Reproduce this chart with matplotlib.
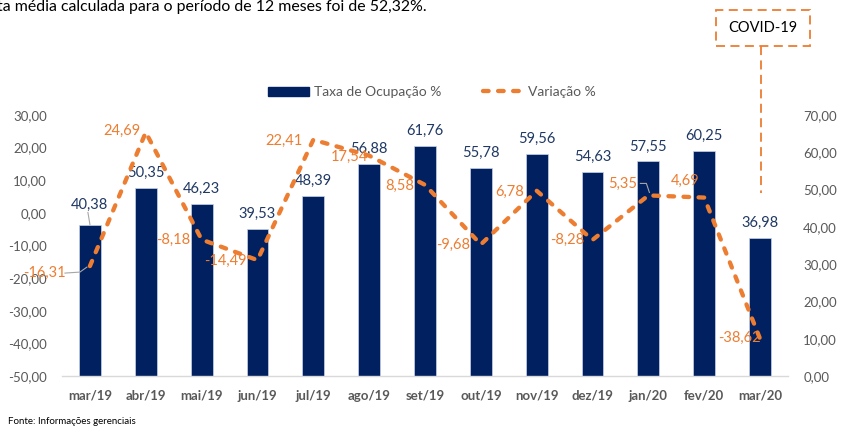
import matplotlib
matplotlib.use("Agg")
import matplotlib.pyplot as plt
from matplotlib.patches import Rectangle
from matplotlib.lines import Line2D
from matplotlib.transforms import IdentityTransform
import numpy as np

plt.rcParams['font.family'] = ['Lato', 'DejaVu Sans']

# ---- data ----
categories = ["mar/19", "abr/19", "mai/19", "jun/19", "jul/19", "ago/19", "set/19",
              "out/19", "nov/19", "dez/19", "jan/20", "fev/20", "mar/20"]
ocupacao = [40.38, 50.35, 46.23, 39.53, 48.39, 56.88, 61.76, 55.78, 59.56, 54.63, 57.55, 60.25, 36.98]
variacao = [-16.31, 24.69, -8.18, -14.49, 22.41, 17.54, 8.58, -9.68, 6.78, -8.28, 5.35, 4.69, -38.62]
left_ticks = [-50, -40, -30, -20, -10, 0, 10, 20, 30]
right_ticks = [0, 10, 20, 30, 40, 50, 60, 70]
legend_labels = ["Taxa de Ocupação %", "Variação %"]
top_text = "ta média calculada para o período de 12 meses foi de 52,32%."
source_text = "Fonte: Informações gerenciais"
covid_text = "COVID-19"

# ---- style ----
NAVY = "#002060"
ORANGE = "#ED7D31"
LABEL_NAVY = "#1F3864"
GRAY = "#595959"
LEADER = "#A6A6A6"
W, H = 842, 428
PX2PT = 72 / 100

def fmt(v):
    return f"{v:.2f}".replace(".", ",")

# line label offsets (pixels, x right, y up)
line_off = [(-45, -7), (-24, 1), (-28, 0), (-32, -1), (-29, -1), (-20, -1), (-25, -1),
            (-28, 0), (-27, -1), (-25, 0), (-26, 12), (-19, 17), (-21, 1)]
bar_off = [21] + [15] * 12

fig = plt.figure(figsize=(W / 100, H / 100), dpi=100)
ax = fig.add_axes([62 / W, 52 / H, (788 - 62) / W, (376 - 115) / H])
axL = ax.twinx()

x = list(range(len(categories)))
ax.bar(x, ocupacao, width=0.39, color=NAVY, edgecolor="#C9D3E6", linewidth=0.5, zorder=2)
ax.set_ylim(0, 70)
ax.set_xlim(-0.5, len(categories) - 0.5)
ax.yaxis.tick_right()
ax.set_yticks(right_ticks)
ax.set_yticklabels([fmt(v) for v in right_ticks])
ax.tick_params(axis="y", length=0, pad=11, labelsize=9.5, labelcolor=GRAY)
ax.set_xticks(x)
ax.set_xticklabels(categories, fontweight="bold")
ax.tick_params(axis="x", length=0, pad=10, labelsize=9.5, labelcolor=GRAY)
for s in ["top", "left", "right"]:
    ax.spines[s].set_visible(False)
ax.spines["bottom"].set_color("#D9D9D9")
ax.spines["bottom"].set_linewidth(1)

axL.plot(x, variacao, color=ORANGE, linewidth=3.1, linestyle=(0, (1.3, 2.2)),
         dash_capstyle="round", zorder=3)
axL.set_ylim(-50, 30)
axL.yaxis.tick_left()
axL.yaxis.set_label_position("left")
axL.set_yticks(left_ticks)
axL.set_yticklabels([fmt(v) for v in left_ticks])
axL.tick_params(axis="y", length=0, pad=11, labelsize=9.5, labelcolor=GRAY)
for s in ["top", "left", "right", "bottom"]:
    axL.spines[s].set_visible(False)

# bar labels
for i, v in enumerate(ocupacao):
    ax.annotate(fmt(v), xy=(i, v), xytext=(0, bar_off[i] * PX2PT), textcoords="offset points",
                ha="center", va="center", fontsize=10.5, color=LABEL_NAVY, zorder=5)

# line labels
for i, v in enumerate(variacao):
    dx, dy = line_off[i]
    axL.annotate(fmt(v), xy=(i, v), xytext=(dx * PX2PT, dy * PX2PT), textcoords="offset points",
                 ha="center", va="center", fontsize=10.5, color=ORANGE, zorder=6)

# leader lines (pixel offsets from the anchored data point, y up)
def leader(axis, i, v, offsets):
    p = axis.transData.transform((i, v))
    pts = np.array([p + np.array(o) for o in offsets])
    fig.add_artist(Line2D(pts[:, 0], pts[:, 1], transform=IdentityTransform(),
                          color=LEADER, linewidth=0.8, zorder=7))

leader(ax, 0, ocupacao[0], [(-2, 13), (0, 1)])
leader(axL, 0, variacao[0], [(-25, -7), (-10, -6), (-3, -1)])
leader(axL, 10, variacao[10], [(-8, 12), (-2, 12), (1, 3)])

# legend
handles = [Rectangle((0, 0), 1, 1, facecolor=NAVY, edgecolor=NAVY),
           Line2D([0], [0], color=ORANGE, linewidth=3.1, linestyle=(0, (1.3, 2.2)),
                  dash_capstyle="round")]
leg = fig.legend(handles, legend_labels, loc="center", bbox_to_anchor=(432 / W, 1 - 92 / H),
                 ncol=2, frameon=False, fontsize=10, handlelength=3.0, handleheight=0.6,
                 columnspacing=3.0, handletextpad=0.3)
for t in leg.get_texts():
    t.set_color(GRAY)

# top text
fig.text(-0.004, 1 - 11 / H, top_text, fontsize=11.4, color="black", va="baseline", ha="left")

# COVID box
box = Rectangle((716 / W, 1 - 46 / H), 94 / W, 36 / H, transform=fig.transFigure,
                facecolor="white", edgecolor=ORANGE, linewidth=1.3, linestyle=(0, (5, 3)))
fig.add_artist(box)
fig.text(763 / W, 1 - 28 / H, covid_text, fontsize=10.5, color="black", ha="center", va="center")
fig.add_artist(Line2D([761 / W, 761 / W], [1 - 46 / H, 1 - 193 / H], transform=fig.transFigure,
                      color=ORANGE, linewidth=1.3, linestyle=(0, (5, 3))))

# source
fig.text(8 / W, 1 - 421 / H, source_text, fontsize=7, color="black", ha="left", va="center")

fig.savefig("out.png", dpi=100)
